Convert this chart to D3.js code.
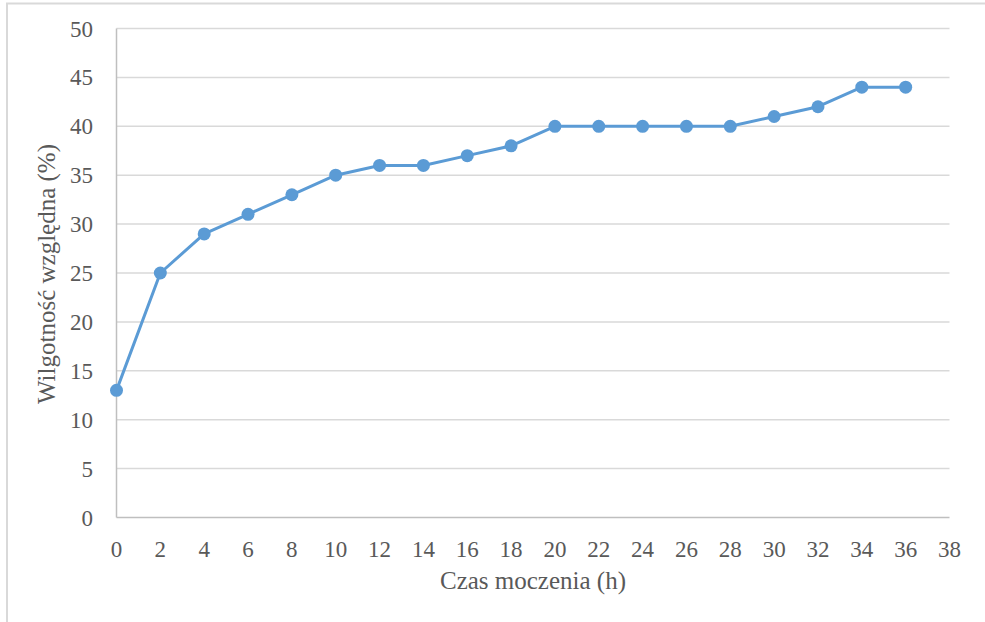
<!DOCTYPE html>
<html><head><meta charset="utf-8">
<script src="https://cdn.jsdelivr.net/npm/d3@7"></script>
<style>body{margin:0;background:#fff}svg{display:block}text{font-family:"Liberation Serif","Times New Roman",Times,serif}</style>
</head><body>
<script>
const hours = [0,2,4,6,8,10,12,14,16,18,20,22,24,26,28,30,32,34,36];
const humidity = [13,25,29,31,33,35,36,36,37,38,40,40,40,40,40,41,42,44,44];
const xTicks = [0,2,4,6,8,10,12,14,16,18,20,22,24,26,28,30,32,34,36,38];
const yTicks = [0,5,10,15,20,25,30,35,40,45,50];
const xTitle = "Czas moczenia (h)";
const yTitle = "Wilgotność względna (%)";

const W = 985, H = 622;
const svg = d3.select("body").append("svg").attr("width", W).attr("height", H);
svg.append("rect").attr("x",7).attr("y",3.5).attr("width",W).attr("height",H+10)
  .attr("fill","#fff").attr("stroke","#d9d9d9").attr("stroke-width",2);

const x = d3.scaleLinear().domain([0,38]).range([116.5,949.5]);
const y = d3.scaleLinear().domain([0,50]).range([517.5,28.5]);

svg.append("g").selectAll("line").data(yTicks.filter(d=>d>0)).join("line")
  .attr("x1",x(0)).attr("x2",x(38)).attr("y1",d=>y(d)).attr("y2",d=>y(d))
  .attr("stroke","#d9d9d9").attr("stroke-width",1.5);

svg.append("line").attr("x1",x(0)).attr("x2",x(0)).attr("y1",y(50)).attr("y2",y(0))
  .attr("stroke","#bfbfbf").attr("stroke-width",1.5);
svg.append("line").attr("x1",x(0)).attr("x2",x(38)).attr("y1",y(0)).attr("y2",y(0))
  .attr("stroke","#bfbfbf").attr("stroke-width",1.5);

svg.append("g").selectAll("text").data(yTicks).join("text")
  .attr("x",93).attr("y",d=>y(d)).attr("dy","0.35em").attr("text-anchor","end")
  .attr("font-size",23).attr("fill","#595959").text(d=>d);
svg.append("g").selectAll("text").data(xTicks).join("text")
  .attr("x",d=>x(d)).attr("y",549).attr("dy","0.35em").attr("text-anchor","middle")
  .attr("font-size",23).attr("fill","#595959").text(d=>d);

svg.append("text").attr("x",533).attr("y",580).attr("dy","0.35em").attr("text-anchor","middle")
  .attr("font-size",25).attr("fill","#595959").text(xTitle);
svg.append("text").attr("transform","translate(46,274) rotate(-90)").attr("dy","0.35em")
  .attr("text-anchor","middle").attr("font-size",25).attr("fill","#595959").text(yTitle);

const pts = hours.map((h,i)=>[h,humidity[i]]);
svg.append("path").datum(pts)
  .attr("d", d3.line().x(d=>x(d[0])).y(d=>y(d[1])))
  .attr("fill","none").attr("stroke","#5b9bd5").attr("stroke-width",3).attr("stroke-linejoin","round");
svg.append("g").selectAll("circle").data(pts).join("circle")
  .attr("cx",d=>x(d[0])).attr("cy",d=>y(d[1])).attr("r",6.5).attr("fill","#5b9bd5");
</script>
</body></html>
